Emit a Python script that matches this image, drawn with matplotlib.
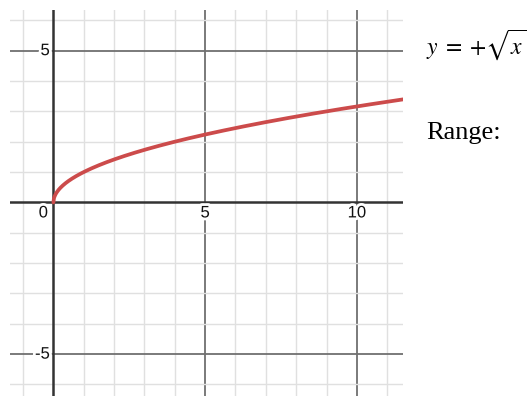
import numpy as np
import matplotlib
matplotlib.use("Agg")
import matplotlib.pyplot as plt
import matplotlib.patheffects as pe

# graph window and grid
x_range = [-1.43, 11.52]
y_range = [-6.38, 6.34]
grid_step = 1
major_step = 5
x_tick_labels = ["0", "5", "10"]
x_tick_values = [0, 5, 10]
y_tick_labels = ["5", "-5"]
y_tick_values = [5, -5]

# curve y = +sqrt(x)
x_start = 0.0
x_end = 11.52

equation_text = r"$y\;=\;{+}\sqrt{x}$"
range_text = "Range:"

plt.rcParams["mathtext.fontset"] = "stix"

fig = plt.figure(figsize=(5.32, 3.96), dpi=100)
ax = fig.add_axes([10 / 532, 0, 393 / 532, 386 / 396])
ax.set_xlim(*x_range)
ax.set_ylim(*y_range)
for s in ax.spines.values():
    s.set_visible(False)
ax.set_xticks([])
ax.set_yticks([])

minor_c = "#e0e0e0"
major_c = "#707070"
axis_c = "#333333"

for gx in np.arange(np.ceil(x_range[0]), x_range[1] + 1e-9, grid_step):
    if gx == 0:
        continue
    major = int(gx) % major_step == 0
    ax.axvline(gx, color=major_c if major else minor_c, lw=1.3 if major else 1.0, zorder=1)
for gy in np.arange(np.ceil(y_range[0]), y_range[1] + 1e-9, grid_step):
    if gy == 0:
        continue
    major = int(gy) % major_step == 0
    ax.axhline(gy, color=major_c if major else minor_c, lw=1.3 if major else 1.0, zorder=1)

ax.axvline(0, color=axis_c, lw=1.8, zorder=2)
ax.axhline(0, color=axis_c, lw=1.8, zorder=2)

xs = np.linspace(x_start, x_end, 600)
ax.plot(xs, np.sqrt(xs), color="#cc4b4b", lw=2.7, solid_capstyle="round", zorder=4)

halo = [pe.withStroke(linewidth=4, foreground="white")]
lab_kw = dict(fontsize=12, family="Liberation Sans", color="#111111", zorder=3,
              path_effects=halo)
for v, t in zip(x_tick_values, x_tick_labels):
    if v == 0:
        ax.text(-0.18, -0.1, t, ha="right", va="top", **lab_kw)
    else:
        ax.text(v, -0.1, t, ha="center", va="top", **lab_kw)
for v, t in zip(y_tick_values, y_tick_labels):
    ax.text(-0.12, v, t, ha="right", va="center", **lab_kw)

fig.text(426 / 532, 1 - 45 / 396, equation_text, fontsize=17, ha="left", va="center")
fig.text(426 / 532, 1 - 139 / 396, range_text, fontsize=19, ha="left", va="baseline",
         family="Liberation Serif")

fig.savefig("out.png", dpi=100)
